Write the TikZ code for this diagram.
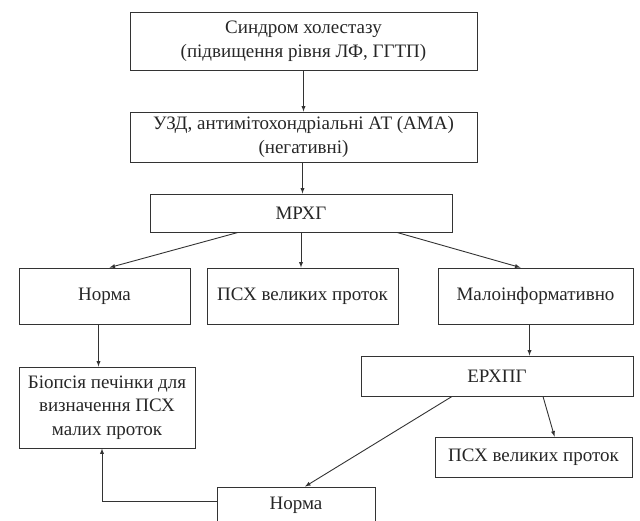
\documentclass[tikz,border=0pt]{standalone}
\usepackage{fontspec}
\setmainfont{Liberation Serif}
\usepackage{tikz}

\begin{document}
\begin{tikzpicture}[x=1pt,y=-1pt,
    box/.style={draw,line width=0.9pt,black!80,text=black!85,align=center,
        inner sep=0pt,font=\fontsize{19}{23.5}\selectfont},
    link/.style={line width=0.9pt,black!80,-latex}]
  \useasboundingbox (0,0) rectangle (640,520);

  % top of the chart
  \node[box,minimum width=347pt,minimum height=58pt] (synd) at (303.5,41)
      {Синдром холестазу\\(підвищення рівня ЛФ, ГГТП)};
  \node[box,minimum width=347pt,minimum height=50pt] (uzd) at (303.5,137)
      {УЗД, антимітохондріальні АТ (АМА)\\(негативні)};
  \node[box,minimum width=302pt,minimum height=38pt] (mrhg) at (301,213) {МРХГ};

  % MRHG results
  \node[box,minimum width=171pt,minimum height=56pt] (norma) at (104.5,296) {Норма};
  \node[box,minimum width=191pt,minimum height=56pt] (psx) at (302.5,296) {ПСХ великих проток};
  \node[box,minimum width=195pt,minimum height=56pt] (malo) at (535.5,296) {Малоінформативно};

  % lower part
  \node[box,minimum width=176pt,minimum height=81pt] (biop) at (107,407.5)
      {Біопсія печінки для\\визначення ПСХ\\малих проток};
  \node[box,minimum width=272pt,minimum height=40pt] (ercp) at (497,376) {ЕРХПГ};
  \node[box,minimum width=197pt,minimum height=40pt] (psxb) at (533.5,457) {ПСХ великих проток};
  \node[box,minimum width=158pt,minimum height=36pt] (normb) at (296,505) {Норма};

  \draw[link] (synd) -- (uzd);
  \draw[link] ([xshift=-1pt]uzd.south) -- ([xshift=-1pt]uzd.south |- mrhg.north);
  \draw[link] ([xshift=-63pt]mrhg.south) -- ([xshift=5pt]norma.north);
  \draw[link] (mrhg.south) -- (mrhg.south |- psx.north);
  \draw[link] ([xshift=96pt]mrhg.south) -- ([xshift=-15pt]malo.north);
  \draw[link] ([xshift=-6pt]norma.south) -- ([xshift=-6pt]norma.south |- biop.north);
  \draw[link] ([xshift=-6pt]malo.south) -- ([xshift=-6pt]malo.south |- ercp.north);
  \draw[link] ([xshift=46pt]ercp.south) -- ([xshift=21pt]psxb.north);
  \draw[link] ([xshift=-45pt]ercp.south) -- ([xshift=9pt]normb.north);
  \draw[link] ([yshift=4pt]normb.west) -| ([xshift=-5pt]biop.south);
\end{tikzpicture}
\end{document}
